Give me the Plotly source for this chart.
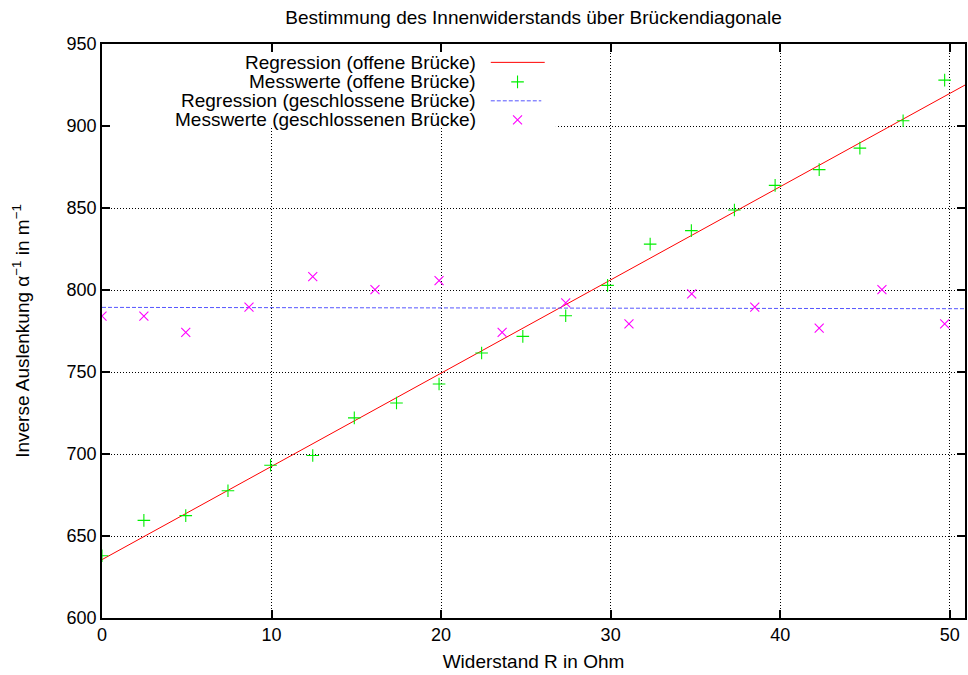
import plotly.graph_objects as go

# Open bridge: resistance R (Ohm) and inverse deflection
r_open = [0.0, 2.47, 4.94, 7.43, 9.94, 12.43, 14.88, 17.37, 19.88, 22.39, 24.82,
          27.35, 29.82, 32.33, 34.76, 37.3, 39.7, 42.3, 44.7, 47.25, 49.7]
inv_open = [638.0, 659.5, 662.4, 677.6, 693.1, 699.1, 722.0, 731.1, 742.7, 761.6, 771.7,
            784.3, 802.8, 828.0, 836.2, 848.8, 863.8, 873.4, 886.5, 903.2, 928.0]

# Closed bridge
r_closed = [0.0, 2.47, 4.94, 8.67, 12.43, 16.1, 19.88, 23.6, 27.35, 31.08,
            34.78, 38.5, 42.3, 46.0, 49.7]
inv_closed = [784.1, 784.1, 774.2, 789.6, 808.1, 800.2, 805.7, 774.2, 792.1, 779.3,
              797.6, 789.6, 776.8, 800.2, 779.3]

# Linear fit parameters y = a*x + b
fit_open = (5.685, 635.6)
fit_closed = (-0.016, 789.4)

x_range = [0, 50.9]
y_range = [600, 950]
x_ticks = [0, 10, 20, 30, 40, 50]
y_ticks = [600, 650, 700, 750, 800, 850, 900, 950]

legend_labels = [
    "Regression (offene Brücke)",
    "Messwerte (offene Brücke)",
    "Regression (geschlossene Brücke)",
    "Messwerte (geschlossenen Brücke)",
]

FONT = "Liberation Sans, Arial, sans-serif"
RED = "#ff0000"
GREEN = "#00ee00"
BLUE = "#5555ff"
MAGENTA = "#ff00ff"


def line_pts(params):
    a, b = params
    xs = [x_range[0], x_range[1]]
    return xs, [a * x + b for x in xs]


def marker(symbol, color):
    return dict(symbol=symbol, size=9, color=color, line=dict(color=color, width=1.1))


fig = go.Figure()

xs, ys = line_pts(fit_open)
fig.add_trace(go.Scatter(x=xs, y=ys, mode="lines",
                         line=dict(color=RED, width=1), showlegend=False))
fig.add_trace(go.Scatter(x=r_open, y=inv_open, mode="markers",
                         marker=marker("cross-thin-open", GREEN), showlegend=False))
xs, ys = line_pts(fit_closed)
fig.add_trace(go.Scatter(x=xs, y=ys, mode="lines",
                         line=dict(color=BLUE, width=1, dash="4px,2px"),
                         showlegend=False))
fig.add_trace(go.Scatter(x=r_closed, y=inv_closed, mode="markers",
                         marker=marker("x-thin-open", MAGENTA), showlegend=False))

# Key: white box over the grid, right-aligned labels, samples to the right
key_rows = [0.968, 0.934, 0.901, 0.868]
key_text_x = 0.4358
key_line_x = (0.4505, 0.513)
key_mark_x = 0.4815
key_box = (0.526, 0.854)  # right edge / bottom edge as fractions of the plot area

x_span = x_range[1] - x_range[0]
y_span = y_range[1] - y_range[0]
fig.add_shape(type="rect", xref="x", yref="y",
              x0=x_range[0], x1=x_range[0] + key_box[0] * x_span,
              y0=y_range[0] + key_box[1] * y_span, y1=y_range[1],
              fillcolor="white", line=dict(width=0), layer="between")

for label, yr in zip(legend_labels, key_rows):
    fig.add_annotation(text=label, xref="paper", yref="paper", x=key_text_x, y=yr,
                       xanchor="right", yanchor="middle", showarrow=False,
                       font=dict(family=FONT, size=19, color="black"))

fig.add_shape(type="line", xref="paper", yref="paper",
              x0=key_line_x[0], x1=key_line_x[1], y0=key_rows[0], y1=key_rows[0],
              line=dict(color=RED, width=1))
fig.add_shape(type="line", xref="paper", yref="paper",
              x0=key_line_x[0], x1=key_line_x[1] - 0.004, y0=key_rows[2], y1=key_rows[2],
              line=dict(color=BLUE, width=1, dash="4px,2px"))

fig.add_trace(go.Scatter(x=[key_mark_x], y=[key_rows[1]], xaxis="x2", yaxis="y2",
                         mode="markers", showlegend=False,
                         marker=marker("cross-thin-open", GREEN)))
fig.add_trace(go.Scatter(x=[key_mark_x], y=[key_rows[3]], xaxis="x2", yaxis="y2",
                         mode="markers", showlegend=False,
                         marker=marker("x-thin-open", MAGENTA)))

axis_common = dict(
    showline=True, linecolor="black", linewidth=1.5, mirror="ticks",
    ticks="inside", ticklen=8, tickwidth=1.5, tickcolor="black",
    showgrid=True, gridcolor="black", gridwidth=1, griddash="1px,2px",
    zeroline=False, tickfont=dict(family=FONT, size=18, color="black"),
)

fig.update_layout(
    width=968, height=675,
    margin=dict(l=102, r=1, t=44, b=57),
    paper_bgcolor="white", plot_bgcolor="white",
    font=dict(family=FONT, color="black"),
    title=dict(text="Bestimmung des Innenwiderstands über Brückendiagonale",
               x=0.5, xanchor="center", y=1 - 17 / 675, yanchor="middle",
               xref="paper", yref="container",
               font=dict(family=FONT, size=19, color="black")),
    xaxis=dict(range=x_range, tickvals=x_ticks,
               title=dict(text="Widerstand R in Ohm", standoff=10,
                          font=dict(family=FONT, size=19)),
               **axis_common),
    yaxis=dict(range=y_range, tickvals=y_ticks,
               title=dict(text="Inverse Auslenkung α<sup>−1</sup> in m<sup>−1</sup>",
                          standoff=32, font=dict(family=FONT, size=19)),
               **axis_common),
    xaxis2=dict(overlaying="x", range=[0, 1], visible=False),
    yaxis2=dict(overlaying="y", range=[0, 1], visible=False),
)

fig.write_html("out.html")
